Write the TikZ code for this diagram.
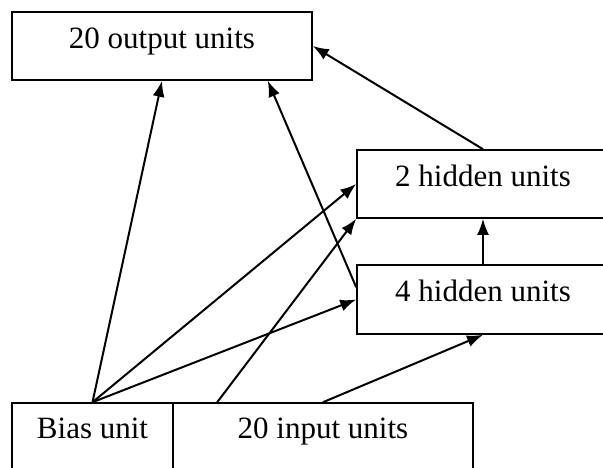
\documentclass[tikz,border=0pt]{standalone}
\usepackage{fontspec}
\setmainfont{Liberation Serif}
\usetikzlibrary{arrows.meta,calc}
\tikzset{
  unitbox/.style={draw,line width=1.6pt,inner sep=0pt,text height=0.7em,text depth=0.25em,font=\fontsize{31}{35}\selectfont},
  conn/.style={line width=2pt,-{Latex[length=16pt,width=12pt]}}
}
\begin{document}
\begin{tikzpicture}[x=1pt,y=-1pt]
\useasboundingbox (0,0) rectangle (603,467);
\clip (0,0) rectangle (603,467);
\node[unitbox,minimum width=300pt,minimum height=68pt] (out) at (162,46) {20 output units};
\node[unitbox,minimum width=252pt,minimum height=68pt] (h2) at (483,184) {2 hidden units};
\node[unitbox,minimum width=252pt,minimum height=69pt] (h4) at (483,299.5) {4 hidden units};
\node[unitbox,minimum width=161pt,minimum height=66pt] (bias) at (92.5,436) {Bias unit};
\node[unitbox,minimum width=300pt,minimum height=66pt] (in) at (323,436) {20 input units};
\draw[conn] (bias.north) -- (out.south);
\draw[conn] (bias.north) -- (h2.west);
\draw[conn] (bias.north) -- (h4.west);
\draw[conn] ($(in.north west)+(45,0)$) -- (h2.south west);
\draw[conn] (in.north) -- (h4.south);
\draw[conn] ($(h4.north west)+(0,23)$) -- ($(out.south east)+(-45,0)$);
\draw[conn] (h2.north) -- (out.east);
\draw[conn] (h4.north) -- (h2.south);
\end{tikzpicture}
\end{document}
